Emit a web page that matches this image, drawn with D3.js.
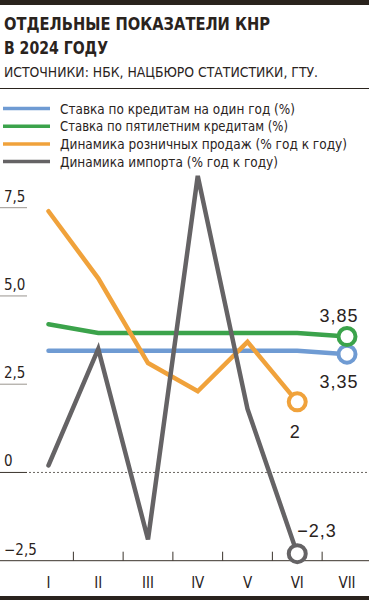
<!DOCTYPE html>
<html><head><meta charset="utf-8">
<script src="https://cdn.jsdelivr.net/npm/d3@7"></script>
<style>
html,body{margin:0;padding:0;background:#fff;}
svg{display:block;}
</style></head>
<body>
<script>
const months = ["I","II","III","IV","V","VI","VII"];
const yTicks = [7.5, 5.0, 2.5, 0, -2.5];
const yTickLabels = ["7,5","5,0","2,5","0","\u22122,5"];
const seriesNames = [
  "Ставка по кредитам на один год (%)",
  "Ставка по пятилетним кредитам (%)",
  "Динамика розничных продаж (% год к году)",
  "Динамика импорта (% год к году)"
];
const loan1y = [3.45, 3.45, 3.45, 3.45, 3.45, 3.45, 3.35];
const loan5y = [4.2, 3.95, 3.95, 3.95, 3.95, 3.95, 3.85];
const retail = [7.4, 5.5, 3.1, 2.3, 3.7, 2.0];
const imports = [0.2, 3.5, -1.9, 8.4, 1.8, -2.3];
const endLabels = ["3,35", "3,85", "2", "\u22122,3"];
const colors = ["#6f9bd3", "#3ba34b", "#f0a23b", "#656365"];

const W = 369, H = 600;
const ink = "#2a231d";
const font = "'Liberation Sans Narrow','DejaVu Sans Condensed',sans-serif";

const svg = d3.select("body").append("svg").attr("width", W).attr("height", H);
svg.append("rect").attr("width", W).attr("height", H).attr("fill", "#fff");

function fitText(sel, len){ sel.attr("textLength", len).attr("lengthAdjust","spacingAndGlyphs"); return sel; }

// header
svg.append("rect").attr("x",0).attr("y",0).attr("width",W).attr("height",5).attr("fill",ink);
fitText(svg.append("text").attr("x",4).attr("y",30).attr("font-family",font).attr("font-weight","bold")
  .attr("font-size",18).attr("fill",ink).text("ОТДЕЛЬНЫЕ ПОКАЗАТЕЛИ КНР"), 266);
fitText(svg.append("text").attr("x",4).attr("y",53.5).attr("font-family",font).attr("font-weight","bold")
  .attr("font-size",18).attr("fill",ink).text("В 2024 ГОДУ"), 104);
fitText(svg.append("text").attr("x",4).attr("y",77).attr("font-family",font)
  .attr("font-size",14).attr("fill",ink).text("ИСТОЧНИКИ: НБК, НАЦБЮРО СТАТИСТИКИ, ГТУ."), 314);
svg.append("rect").attr("x",0).attr("y",88).attr("width",W).attr("height",1).attr("fill",ink);

// legend
const legLens = [235, 228, 287, 218];
const leg = svg.append("g");
seriesNames.forEach((n,i)=>{
  const yy = 108.5 + i*17.7;
  leg.append("line").attr("x1",3).attr("x2",50).attr("y1",yy).attr("y2",yy)
    .attr("stroke",colors[i]).attr("stroke-width",3.5);
  fitText(leg.append("text").attr("x",60).attr("y",yy+5).attr("font-family",font)
    .attr("font-size",14.5).attr("fill",ink).text(n), legLens[i]);
});

// scales
const x = d3.scalePoint().domain(months).range([48.5, 347]);
const y = d3.scaleLinear().domain([-2.5, 7.5]).range([560.7, 207.7]);

// y ticks
const yg = svg.append("g");
yTicks.forEach((t,i)=>{
  if (t === -2.5) return;
  yg.append("line").attr("x1",0).attr("x2",27).attr("y1",y(t)).attr("y2",y(t))
    .attr("stroke", t===0 ? "#3a332c" : "#9a958f").attr("stroke-width",1);
});
yTicks.forEach((t,i)=>{
  yg.append("text").attr("x",4).attr("y",y(t)-6).attr("font-family",font)
    .attr("font-size",15).attr("fill",ink).text(yTickLabels[i]);
});
// zero dotted
svg.append("line").attr("x1",29).attr("x2",W).attr("y1",y(0)).attr("y2",y(0))
  .attr("stroke","#6a6560").attr("stroke-width",1).attr("stroke-dasharray","2,2");

// x axis baseline
svg.append("line").attr("x1",0).attr("x2",W).attr("y1",y(-2.5)).attr("y2",y(-2.5))
  .attr("stroke","#3a332c").attr("stroke-width",1);
const step = x.step();
months.slice(0,-1).forEach((m,i)=>{
  const xx = x(m) + step/2;
  svg.append("line").attr("x1",xx).attr("x2",xx).attr("y1",y(-2.5)).attr("y2",y(-2.5)-9)
    .attr("stroke","#3a332c").attr("stroke-width",1);
});
months.forEach(m=>{
  svg.append("text").attr("x",x(m)).attr("y",588).attr("text-anchor","middle")
    .attr("font-family",font).attr("font-size",15).attr("fill",ink).text(m);
});
svg.append("rect").attr("x",0).attr("y",596).attr("width",W).attr("height",4).attr("fill",ink);

// lines
const line = d3.line().x((d,i)=>x(months[i])).y(d=>y(d));
const data = [loan1y, loan5y, retail, imports];
data.forEach((arr,i)=>{
  svg.append("path").attr("d", line(arr)).attr("fill","none")
    .attr("stroke",colors[i]).attr("stroke-width",4.5)
    .attr("stroke-linejoin","miter").attr("stroke-linecap","round");
});
// end circles
data.forEach((arr,i)=>{
  const n = arr.length-1;
  svg.append("circle").attr("cx",x(months[n])).attr("cy",y(arr[n])).attr("r",8.5)
    .attr("fill","#fff").attr("stroke",colors[i]).attr("stroke-width",4);
});
// labels
const lblPos = [
  {dx:-8, dy:34, anchor:"middle"},
  {dx:-8, dy:-15, anchor:"middle"},
  {dx:-2, dy:36, anchor:"middle"},
  {dx:0, dy:-17, anchor:"start"}
];
data.forEach((arr,i)=>{
  const n = arr.length-1;
  svg.append("text").attr("x",x(months[n])+lblPos[i].dx).attr("y",y(arr[n])+lblPos[i].dy)
    .attr("text-anchor",lblPos[i].anchor).attr("font-family","'Liberation Sans',sans-serif")
    .attr("font-size",18).attr("letter-spacing",1).attr("fill",ink).text(endLabels[i]);
});
</script>
</body></html>
